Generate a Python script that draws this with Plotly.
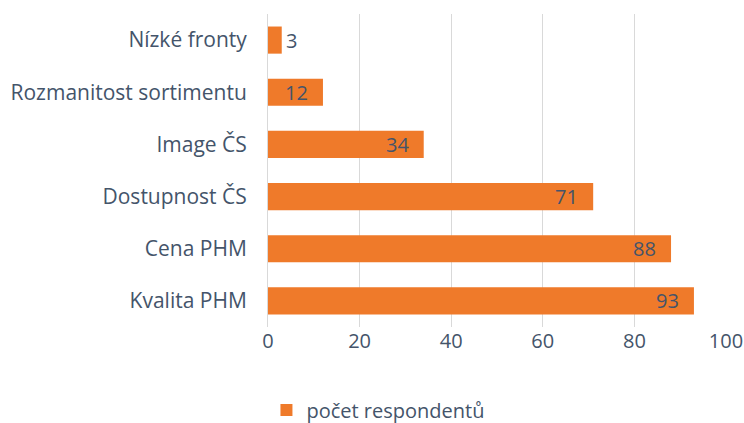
import plotly.graph_objects as go

# categories listed bottom to top
kategorie = ["Kvalita PHM", "Cena PHM", "Dostupnost ČS", "Image ČS",
             "Rozmanitost sortimentu", "Nízké fronty"]
respondenti = [93, 88, 71, 34, 12, 3]
x_ticks = [0, 20, 40, 60, 80, 100]

txt = "#44546A"
font_name = "Open Sans"

fig = go.Figure()
fig.add_trace(go.Bar(
    y=kategorie,
    x=respondenti,
    orientation="h",
    name="počet respondentů",
    marker=dict(color="#EF7A2A", line=dict(width=0)),
    width=0.52,
))

# value labels: inside the bar end, tiny bar gets it outside
for k, v in zip(kategorie, respondenti):
    uvnitr = v >= 8
    fig.add_annotation(
        x=v, y=k, text=str(v), showarrow=False,
        xanchor="right" if uvnitr else "left",
        xshift=-13 if uvnitr else 2,
        font=dict(color=txt, size=20, family=font_name),
    )

fig.update_layout(
    width=744, height=423,
    margin=dict(l=268, r=18, t=14, b=96),
    paper_bgcolor="white",
    plot_bgcolor="white",
    font=dict(family=font_name, color=txt, size=20),
    showlegend=True,
    legend=dict(orientation="h", xref="container", yref="container",
                x=0.508, xanchor="center", y=0.031, yanchor="middle",
                itemwidth=30, font=dict(size=20, color=txt)),
    xaxis=dict(range=[0, 100], tickvals=x_ticks, showgrid=True,
               gridcolor="#D9D9D9", gridwidth=1, zeroline=False,
               showline=False, ticks="", automargin=False,
               ticklabeloverflow="allow",
               tickfont=dict(size=20, color=txt)),
    yaxis=dict(showgrid=False, showline=True, linecolor="#D9D9D9",
               ticks="", ticklabelstandoff=16, automargin=False,
               tickfont=dict(size=21, color=txt)),
)

# drop the default page margin so the figure fills the window exactly
fig.write_html("out.html", config={"displayModeBar": False},
               post_script="document.body.style.margin='0';")
